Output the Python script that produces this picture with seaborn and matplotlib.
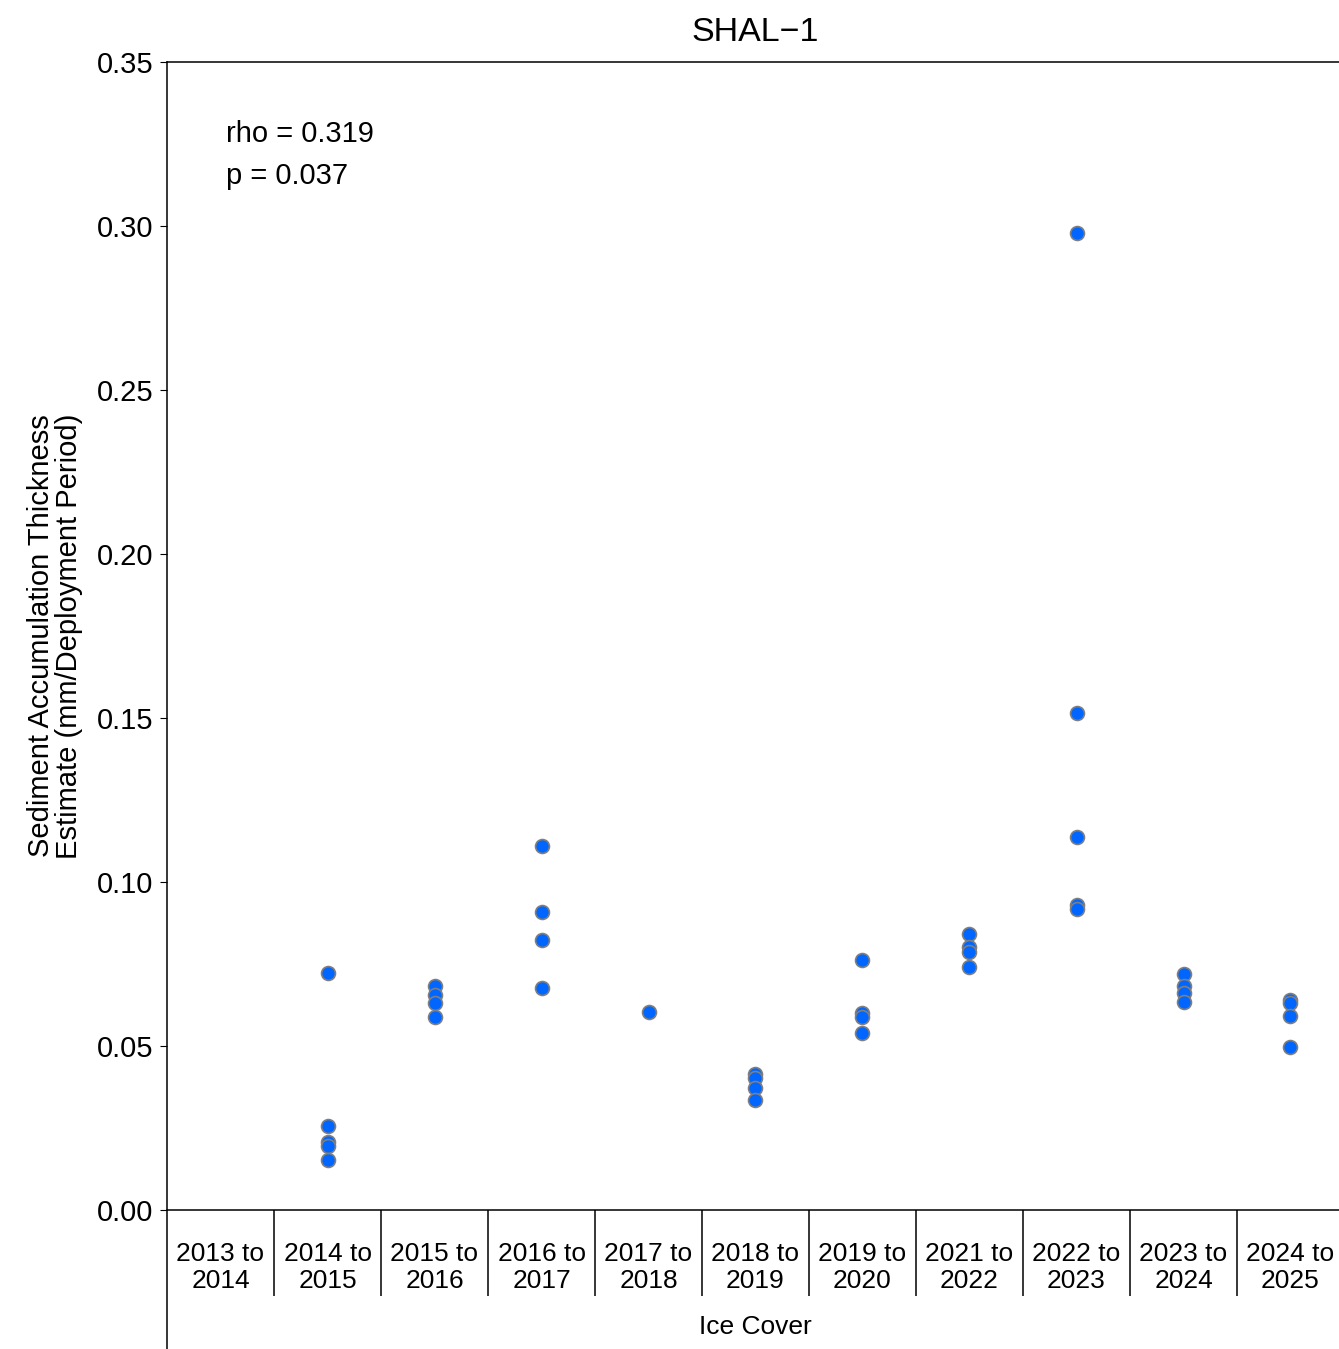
import matplotlib
matplotlib.use("Agg")
import matplotlib.pyplot as plt
import seaborn as sns
import pandas as pd

# Deployment periods (x categories) and sediment thickness estimates
periods = ["2013 to\n2014", "2014 to\n2015", "2015 to\n2016", "2016 to\n2017",
           "2017 to\n2018", "2018 to\n2019", "2019 to\n2020", "2021 to\n2022",
           "2022 to\n2023", "2023 to\n2024", "2024 to\n2025"]

vals_2013 = []
vals_2014 = [0.0724, 0.0256, 0.0208, 0.0195, 0.0152]
vals_2015 = [0.0683, 0.0655, 0.0630, 0.0589]
vals_2016 = [0.1110, 0.0909, 0.0823, 0.0677]
vals_2017 = [0.0604]
vals_2018 = [0.0415, 0.0402, 0.0372, 0.0335]
vals_2019 = [0.0762, 0.0600, 0.0588, 0.0541]
vals_2021 = [0.0841, 0.0803, 0.0788, 0.0740]
vals_2022 = [0.2979, 0.1515, 0.1137, 0.0930, 0.0918]
vals_2023 = [0.0720, 0.0684, 0.0663, 0.0635]
vals_2024 = [0.0640, 0.0630, 0.0592, 0.0498]

rho_text = "rho = 0.319"
p_text = "p = 0.037"

series = [vals_2013, vals_2014, vals_2015, vals_2016, vals_2017, vals_2018,
          vals_2019, vals_2021, vals_2022, vals_2023, vals_2024]
rows = [(per, v) for per, vals in zip(periods, series) for v in vals]
df = pd.DataFrame(rows, columns=["period", "thickness"])

sns.set_theme(style="white")
plt.rcParams["font.family"] = ["Liberation Sans", "DejaVu Sans"]

W, H = 1339, 1349
fig = plt.figure(figsize=(W / 100, H / 100), dpi=100)
# the plotting panel runs slightly past the right edge of the canvas
left, right, top, bottom = 167, 1344, 62, 1210
ax = fig.add_axes([left / W, (H - bottom) / H, (right - left) / W, (bottom - top) / H])

sns.stripplot(data=df, x="period", y="thickness", order=periods, jitter=False,
              color="#0066FF", edgecolor="#7f7f7f", linewidth=1.2, s=10,
              ax=ax, zorder=3)

ax.set_xlim(-0.5, len(periods) - 0.5)
ax.set_ylim(0, 0.35)
ax.set_yticks([0, 0.05, 0.10, 0.15, 0.20, 0.25, 0.30, 0.35])
ax.set_yticklabels(["0.00", "0.05", "0.10", "0.15", "0.20", "0.25", "0.30", "0.35"])
ax.tick_params(axis="y", which="major", length=5, width=0.8, color="black",
               pad=5, labelsize=21, labelcolor="black", left=True)
ax.tick_params(axis="x", which="major", length=0, pad=23, labelsize=19,
               labelcolor="black")
for lab in ax.get_xticklabels():
    lab.set_linespacing(1.15)

for side in ["left", "top", "bottom"]:
    ax.spines[side].set_color("black")
    ax.spines[side].set_linewidth(1.1)
ax.spines["right"].set_visible(False)
ax.spines["left"].set_bounds(-0.045, 0.35)

# separators between the period labels below the axis
sep_depth = (1296 - bottom) / (bottom - top)
trans = ax.get_xaxis_transform()
for i in range(len(periods) - 1):
    ax.plot([i + 0.5, i + 0.5], [0, -sep_depth], transform=trans, color="black",
            lw=1.1, clip_on=False, solid_capstyle="butt")

ax.set_title("SHAL\u22121", fontsize=24.5, color="black", pad=15,
             x=(755 - left) / (right - left))
ax.set_xlabel("Ice Cover", fontsize=19, color="black")
ax.xaxis.set_label_coords((755 - left) / (right - left), -(1334 - bottom) / (bottom - top))
ax.xaxis.label.set_verticalalignment("baseline")
ax.set_ylabel("Sediment Accumulation Thickness\nEstimate (mm/Deployment Period)",
              fontsize=21, color="black", linespacing=1.0)
ax.yaxis.set_label_coords(-(left - 55) / (right - left), 0.5)
ax.yaxis.label.set_verticalalignment("center")

ax.text((226 - left) / (right - left), (bottom - 142) / (bottom - top), rho_text,
        transform=ax.transAxes, fontsize=21, ha="left", va="baseline", color="black")
ax.text((226 - left) / (right - left), (bottom - 184) / (bottom - top), p_text,
        transform=ax.transAxes, fontsize=21, ha="left", va="baseline", color="black")

fig.savefig("out.png", dpi=100, facecolor="white")
